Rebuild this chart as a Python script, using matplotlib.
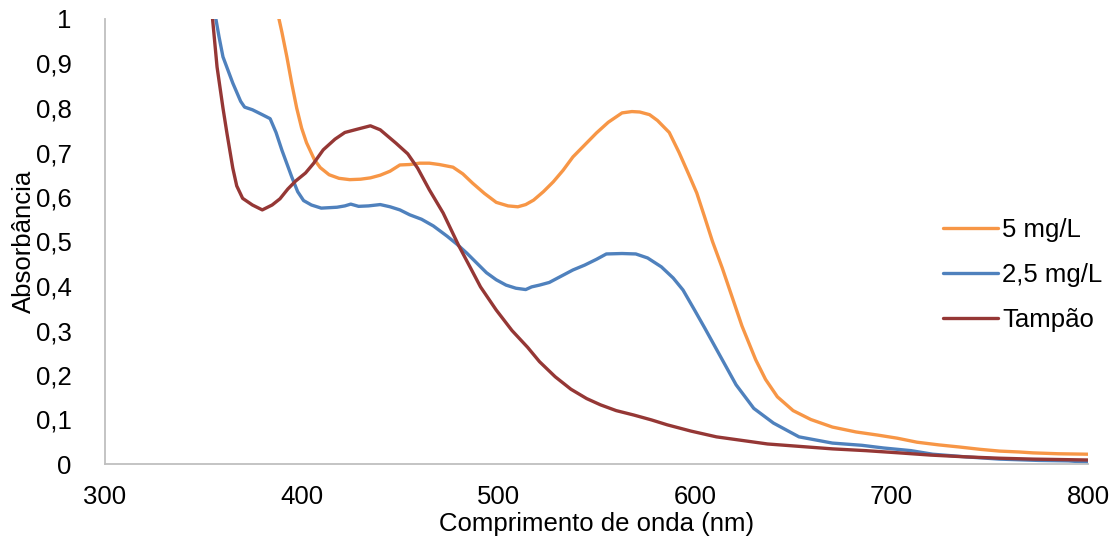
import matplotlib
matplotlib.use('Agg')
import matplotlib.pyplot as plt
from matplotlib.ticker import FuncFormatter

# Absorbance spectra
wl_5 = [386, 388, 390, 392.5, 395, 397.5, 400, 402.5, 406.5, 409.5, 414, 419, 424.5, 430, 435, 440, 445,
        450, 455, 460, 465, 470, 477, 482, 487, 493, 499, 505, 510, 514, 518, 523, 528,
        533, 538, 544, 550, 556, 563, 568, 572, 577, 581, 587, 592, 597, 601, 605, 609,
        614, 618, 624, 631, 636, 642, 650, 659, 670, 682, 693, 703, 713, 724, 735, 745,
        755, 765, 772, 785, 800]
abs_5 = [1.05, 1.01, 0.97, 0.915, 0.855, 0.80, 0.755, 0.722, 0.684, 0.666, 0.650, 0.642, 0.639, 0.640, 0.643, 0.649, 0.658,
         0.672, 0.673, 0.676, 0.676, 0.673, 0.667, 0.652, 0.631, 0.608, 0.588, 0.580, 0.578, 0.583, 0.593, 0.612, 0.634,
         0.660, 0.690, 0.717, 0.744, 0.768, 0.789, 0.792, 0.791, 0.785, 0.772, 0.745, 0.700, 0.650, 0.609, 0.555, 0.500,
         0.440, 0.388, 0.310, 0.234, 0.190, 0.151, 0.120, 0.100, 0.083, 0.072, 0.065, 0.058, 0.049, 0.043, 0.038, 0.033,
         0.029, 0.027, 0.025, 0.023, 0.022]

wl_25 = [355, 356, 358, 360, 365, 369, 371, 375, 380, 384, 387, 390, 395, 398, 401, 405,
         410, 418, 422, 425, 429, 434, 440, 445, 450, 455, 461, 467, 474, 479, 484, 489,
         494, 499, 504, 509, 514, 517, 521, 526, 532, 538, 544, 550, 555, 563, 570, 576,
         583, 589, 594, 600, 605, 612, 621, 630, 640, 653, 670, 685, 696, 710, 721, 738,
         755, 775, 790, 800]
abs_25 = [1.05, 1.01, 0.96, 0.915, 0.856, 0.815, 0.802, 0.796, 0.785, 0.776, 0.745, 0.705, 0.645, 0.612, 0.592, 0.582,
          0.575, 0.577, 0.580, 0.584, 0.579, 0.580, 0.583, 0.578, 0.571, 0.560, 0.550, 0.535, 0.512, 0.494, 0.474, 0.452,
          0.430, 0.414, 0.402, 0.395, 0.392, 0.398, 0.402, 0.408, 0.422, 0.436, 0.447, 0.460, 0.472, 0.473, 0.472, 0.463,
          0.443, 0.418, 0.391, 0.345, 0.306, 0.250, 0.178, 0.125, 0.092, 0.061, 0.047, 0.042, 0.036, 0.030, 0.022, 0.016,
          0.011, 0.008, 0.007, 0.004]

wl_tampao = [353, 354.5, 357, 360, 362, 365, 367, 370, 375, 380, 385, 389, 393, 397, 402, 406,
             411, 417, 422, 428, 435, 440, 448, 454, 459, 465, 472, 480, 486, 491, 499, 507,
             515, 521, 529, 537, 545, 552, 560, 569, 578, 586, 598, 611, 624, 637, 652, 670,
             687, 704, 720, 738, 755, 772, 786, 800]
abs_tampao = [1.05, 1.01, 0.892, 0.80, 0.744, 0.665, 0.625, 0.597, 0.582, 0.571, 0.582, 0.596, 0.618, 0.636, 0.654, 0.675,
              0.706, 0.730, 0.745, 0.752, 0.760, 0.751, 0.721, 0.697, 0.665, 0.616, 0.564, 0.490, 0.440, 0.398, 0.346, 0.300,
              0.262, 0.230, 0.196, 0.168, 0.147, 0.133, 0.120, 0.110, 0.099, 0.088, 0.074, 0.061, 0.053, 0.045, 0.040, 0.034,
              0.030, 0.025, 0.020, 0.016, 0.013, 0.011, 0.010, 0.009]

labels = ['5 mg/L', '2,5 mg/L', 'Tampão']
colors = ['#F79646', '#4F81BD', '#953735']

plt.rcParams['font.family'] = ['Liberation Sans', 'DejaVu Sans']

fig = plt.figure(figsize=(11.15, 5.47), dpi=100)
ax = fig.add_axes([105 / 1115, 1 - 464 / 547, (1088 - 105) / 1115, (464 - 19) / 547])

for wl, ab, lab, col in zip([wl_5, wl_25, wl_tampao], [abs_5, abs_25, abs_tampao], labels, colors):
    ax.plot(wl, ab, color=col, lw=2.4, label=lab, solid_capstyle='round', solid_joinstyle='round')

ax.set_xlim(300, 800)
ax.set_ylim(0, 1)
ax.set_xticks([300, 400, 500, 600, 700, 800])
ax.set_yticks([i / 10 for i in range(11)])
ax.yaxis.set_major_formatter(FuncFormatter(lambda v, p: ('%g' % round(v, 1)).replace('.', ',')))
ax.tick_params(length=0, labelsize=18.5)
ax.tick_params(axis='y', pad=24)
ax.tick_params(axis='x', pad=15)

for s in ['top', 'right']:
    ax.spines[s].set_visible(False)
for s in ['left', 'bottom']:
    ax.spines[s].set_color('#BFBFBF')
    ax.spines[s].set_linewidth(1.3)

ax.set_xlabel('Comprimento de onda (nm)', fontsize=18.5, labelpad=2)
ax.set_ylabel('Absorbância', fontsize=18.5, labelpad=0)

fig.legend(loc='center left', bbox_to_anchor=(943 / 1115, 1 - 275 / 547), frameon=False,
           fontsize=18.5, handlelength=2.15, handletextpad=0.15, labelspacing=0.82,
           borderpad=0, borderaxespad=0)

fig.savefig('out.png', dpi=100)
